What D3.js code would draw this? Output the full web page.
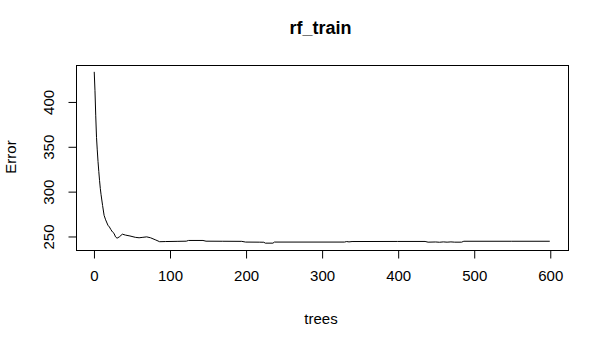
<!DOCTYPE html>
<html>
<head>
<meta charset="utf-8">
<script src="https://cdn.jsdelivr.net/npm/d3@7"></script>
<style>
  html, body { margin: 0; padding: 0; background: #fff; }
  svg { display: block; font-family: "Liberation Sans", Arial, sans-serif; }
</style>
</head>
<body>
<svg id="chart" width="601" height="343"></svg>
<script>
const trees  = [1, 2, 3, 4, 5, 6, 7, 8, 9, 10, 12, 14, 16, 19, 21, 23, 25, 27, 29, 31, 34, 38, 42, 48, 55, 60, 65, 70, 75, 82, 87, 95, 110, 122, 125, 144, 148, 170, 195, 200, 218, 224, 226, 236, 238, 330, 333, 336, 340, 400, 436, 440, 450, 455, 460, 465, 470, 475, 484, 487, 550, 600];
const errors = [433, 412, 384, 360, 346, 333, 322, 312, 303, 296, 284, 273, 268, 262, 260, 257, 254.5, 253, 249, 247.5, 249, 252, 251, 250, 248.5, 248, 248.5, 249, 248, 245.5, 243.6, 243.8, 244, 244.2, 245, 245, 244.2, 244.1, 244, 243.2, 243.1, 243, 242, 242, 243.2, 243.2, 243.8, 243.4, 243.8, 243.9, 243.9, 243.1, 243.3, 243.0, 243.4, 243.1, 243.4, 243.1, 243.1, 244.1, 244.1, 244.1];
const xTicks = [0, 100, 200, 300, 400, 500, 600];
const yTicks = [250, 300, 350, 400];
const titleText = "rf_train";
const xLabel = "trees";
const yLabel = "Error";

const svg = d3.select("#chart");
const L = 76, R = 568, T = 65, B = 250;

// R-style 4% range extension
const xmin = d3.min(trees), xmax = d3.max(trees);
const ymin = d3.min(errors), ymax = d3.max(errors);
const xe = (xmax - xmin) * 0.04, ye = (ymax - ymin) * 0.04;
const x = d3.scaleLinear().domain([xmin - xe, xmax + xe]).range([L, R]);
const y = d3.scaleLinear().domain([ymin - ye, ymax + ye]).range([B, T]);

// box
svg.append("rect")
  .attr("x", L + 0.5).attr("y", T + 0.5)
  .attr("width", R - L).attr("height", B - T)
  .attr("fill", "none").attr("stroke", "#000").attr("stroke-width", 1);

// x axis
const xAxis = d3.axisBottom(x).tickValues(xTicks).tickSize(8).tickPadding(12);
const gx = svg.append("g").attr("transform", `translate(0.5,${B + 0.5})`).call(xAxis);
gx.select(".domain").attr("d", `M${x(xTicks[0])},0H${x(xTicks[xTicks.length-1])}`).attr("stroke", "#000");
gx.selectAll(".tick line").attr("stroke", "#000");
gx.selectAll(".tick text").attr("fill", "#000").style("font-size", "15px");
gx.selectAll(".domain").remove();

// y axis
const yAxis = d3.axisLeft(y).tickValues(yTicks).tickSize(8).tickPadding(0);
const gy = svg.append("g").attr("transform", `translate(${L + 0.5},0.5)`).call(yAxis);
gy.selectAll(".domain").remove();
gy.selectAll(".tick line").attr("stroke", "#000");
gy.selectAll(".tick text")
  .attr("fill", "#000").style("font-size", "15px")
  .attr("x", null).attr("dy", null)
  .attr("text-anchor", "middle")
  .attr("transform", "translate(-23,0) rotate(-90)");

// line
const line = d3.line().x((d, i) => x(trees[i])).y(d => y(d));
svg.append("path")
  .datum(errors)
  .attr("d", line)
  .attr("fill", "none")
  .attr("stroke", "#000")
  .attr("stroke-width", 1);

// title & labels
svg.append("text").attr("x", 320.5).attr("y", 34)
  .attr("text-anchor", "middle").style("font-size", "18px").style("font-weight", "bold")
  .text(titleText);
svg.append("text").attr("x", 321).attr("y", 324)
  .attr("text-anchor", "middle").style("font-size", "15px")
  .text(xLabel);
svg.append("text").attr("transform", "translate(16,157) rotate(-90)")
  .attr("text-anchor", "middle").style("font-size", "15px")
  .text(yLabel);
</script>
</body>
</html>
